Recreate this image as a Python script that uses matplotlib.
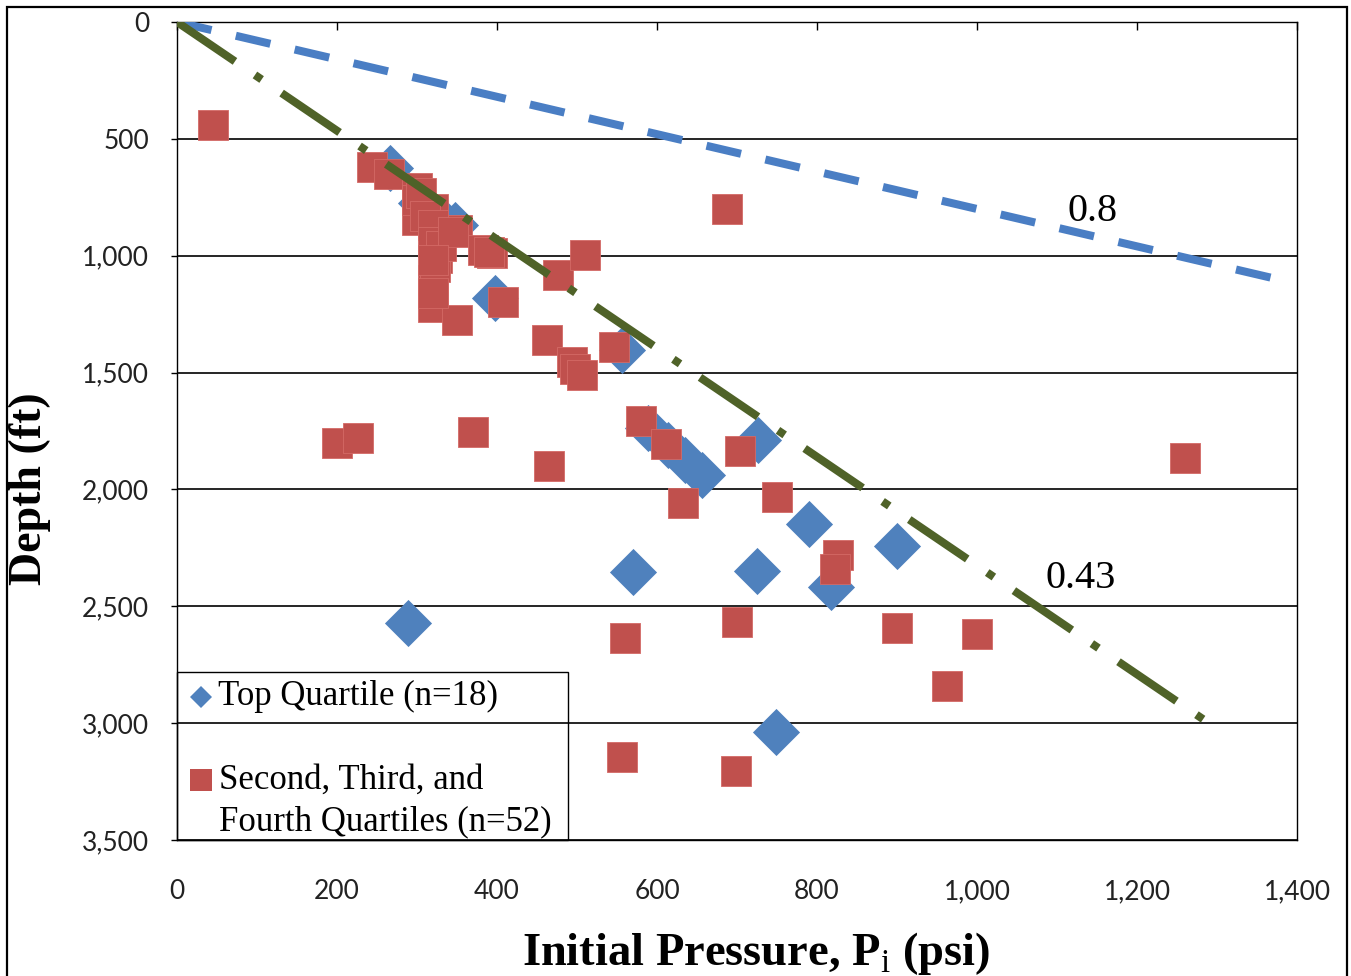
import matplotlib
matplotlib.use('Agg')
import matplotlib.pyplot as plt
from matplotlib.patches import Rectangle

plt.rcParams['mathtext.fontset'] = 'custom'
plt.rcParams['mathtext.rm'] = 'Liberation Serif'
plt.rcParams['mathtext.bf'] = 'Liberation Serif:bold'

# Top quartile wells (pressure psi, depth ft)
top_p = [266, 305, 329, 347, 398, 556, 589, 614, 635, 656,
         726, 790, 900, 725, 570, 818, 289, 749]
top_d = [625, 775, 839, 870, 1181, 1403, 1737, 1810, 1874, 1939,
         1788, 2148, 2242, 2349, 2354, 2418, 2572, 3038]

# Second, third and fourth quartile wells
rest_p = [45, 244, 265, 300, 300, 320, 350, 325, 320, 320,
          350, 383, 394, 408, 476, 510, 463, 494, 498, 506,
          546, 580, 611, 632, 704, 750, 826, 822, 560, 700,
          900, 1000, 963, 556, 699, 1260, 688, 200, 226, 370,
          465, 300, 305, 310, 320, 320, 322, 320, 330, 345,
          390, 320]
rest_d = [441, 621, 650, 711, 847, 800, 890, 1010, 1104, 1219,
          1275, 975, 990, 1199, 1083, 997, 1361, 1455, 1485, 1510,
          1391, 1707, 1806, 2058, 1835, 2033, 2281, 2341, 2636, 2567,
          2593, 2619, 2841, 3145, 3205, 1866, 800, 1801, 1780, 1754,
          1900, 760, 730, 830, 870, 940, 1050, 1160, 960, 900,
          985, 1020]

# gradient reference lines (end points)
grad08_p = [0, 1385]
grad08_d = [0, 1108]
grad043_p = [0, 1295]
grad043_d = [0, 3012]

x_ticks = [0, 200, 400, 600, 800, 1000, 1200, 1400]
x_labels = ['0', '200', '400', '600', '800', '1,000', '1,200', '1,400']
y_ticks = [0, 500, 1000, 1500, 2000, 2500, 3000, 3500]
y_labels = ['0', '500', '1,000', '1,500', '2,000', '2,500', '3,000', '3,500']

blue = '#4F81BD'
red = '#C0504D'
green = '#4F6228'
serif = 'Liberation Serif'

fig = plt.figure(figsize=(13.51, 9.76), dpi=100)
ax = fig.add_axes([177/1351, 136/976, 1120/1351, 818/976])

ax.scatter(top_p, top_d, marker='D', s=24**2, color=blue, linewidths=0, zorder=3)
ax.scatter(rest_p, rest_d, marker='s', s=22**2, color=red, edgecolors='#D46A66',
           linewidths=0.6, zorder=4)

ax.plot(grad08_p, grad08_d, color='#4A7EC4', lw=5.8, dashes=(4.4, 3.1),
        dash_capstyle='butt', zorder=5)
ax.plot(grad043_p, grad043_d, color=green, lw=5.8, dashes=(8.7, 3, 1, 3),
        dash_capstyle='butt', zorder=5)

ax.text(1144, 809, '0.8', fontsize=29, family=serif, ha='center', va='center')
ax.text(1130, 2379, '0.43', fontsize=29, family=serif, ha='center', va='center')

ax.set_xlim(0, 1400)
ax.set_ylim(3500, 0)
ax.set_xticks(x_ticks)
ax.set_xticklabels(x_labels)
ax.set_yticks(y_ticks)
ax.set_yticklabels(y_labels)
ax.grid(axis='y', color='black', lw=1.2)
ax.set_axisbelow(True)
for s in ax.spines.values():
    s.set_color('black')
    s.set_linewidth(1.0)

ax.tick_params(axis='x', top=True, bottom=False, labeltop=False, labelbottom=True,
               direction='in', length=6, width=1, pad=28, labelsize=19,
               labelcolor='#222222')
ax.tick_params(axis='y', left=True, direction='out', length=4, width=1, pad=16,
               labelsize=19, labelcolor='#222222')
for lab in ax.get_xticklabels() + ax.get_yticklabels():
    lab.set_family('Lato')

# legend (no fill, gridline shows through)
ax.add_patch(Rectangle((0, 0), 0.349, 0.205, transform=ax.transAxes, fill=False,
                       edgecolor='black', lw=1.0, zorder=6, clip_on=False))
ax.plot([0.021], [0.175], marker='D', ms=11, color=blue, mew=0,
        transform=ax.transAxes, zorder=7, clip_on=False)
ax.plot([0.021], [0.073], marker='s', ms=16, color=red, mew=0,
        transform=ax.transAxes, zorder=7, clip_on=False)
ax.text(0.0366, 0.175, 'Top Quartile (n=18)', transform=ax.transAxes,
        fontsize=25, family=serif, va='center', ha='left')
ax.text(0.0375, 0.073, 'Second, Third, and', transform=ax.transAxes,
        fontsize=25, family=serif, va='center', ha='left')
ax.text(0.0375, 0.022, 'Fourth Quartiles (n=52)', transform=ax.transAxes,
        fontsize=25, family=serif, va='center', ha='left')

fig.text(756/1351, 1 - 965/976, r'Initial Pressure, P$_{\mathrm{i}}$ (psi)',
         fontsize=33.5, fontweight='bold', family=serif, ha='center', va='baseline')
fig.text(30/1351, 1 - 489/976, 'Depth (ft)', rotation=90, fontsize=33,
         fontweight='bold', family=serif, ha='center', va='center')

# outer chart border
fig.patches.append(Rectangle((7/1351, -0.05), (1347 - 7)/1351, 1.05 - 7/976,
                             transform=fig.transFigure, fill=False,
                             edgecolor='black', lw=1.6))

fig.savefig('out.png', dpi=100)
